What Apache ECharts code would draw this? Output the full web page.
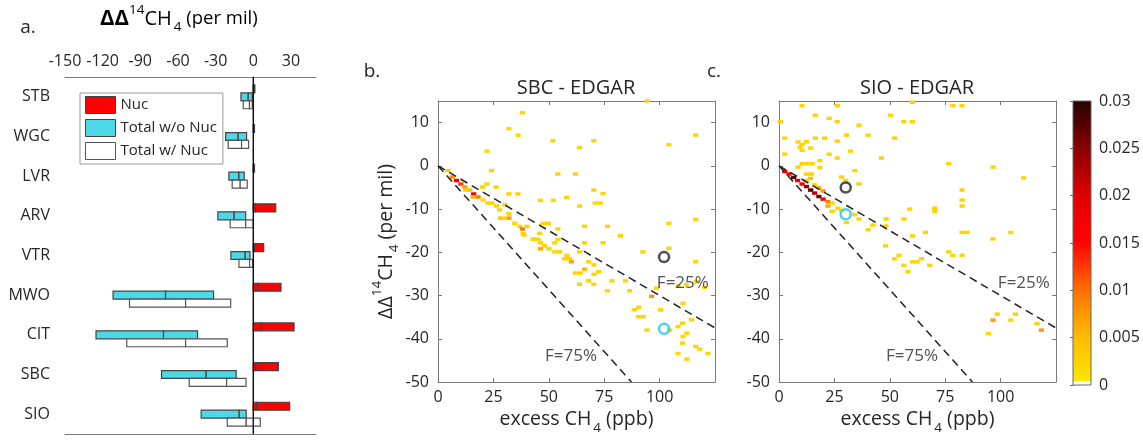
<!DOCTYPE html>
<html><head><meta charset="utf-8">
<script src="https://cdn.jsdelivr.net/npm/echarts@6/dist/echarts.min.js"></script>
<style>html,body{margin:0;padding:0;background:#fff}#c{width:1143px;height:444px}</style>
</head><body><div id="c"></div>
<script>
// ---------- Panel a data ----------
const SITES = ['STB','WGC','LVR','ARV','VTR','MWO','CIT','SBC','SIO'];
const A_TICKS = [-150,-120,-90,-60,-30,0,30];
// [low, mid, high] in per mil
const NUC    = [[0,0.4,1.3],[0,0.3,1],[0,0.3,1],[0,1.6,17.9],[0,1,8.3],[0,4,22.1],[0,6.4,32.5],[0,2.2,20],[0,2.7,29]];
const TOT_WO = [[-9.8,-4,-0.8],[-22,-12,-5.3],[-19.4,-11.4,-7.2],[-28.2,-15.2,-6],[-17.8,-6.4,-2.6],[-111.7,-69.9,-31.6],[-125.3,-71.5,-44.4],[-73.1,-37.5,-13.6],[-41.5,-11.2,-5.6]];
const TOT_W  = [[-8,-3,-0.8],[-20,-9.3,-3.7],[-16.8,-10.4,-4.8],[-18.4,-6,0],[-11.4,-2.9,-0.5],[-98.6,-53.9,-18],[-100.8,-53.9,-20.7],[-51,-21.2,-5.8],[-20.7,-5.6,5.6]];
const ZERO_LINE = [[0]];

// ---------- Panels b/c data: 2D histogram cells [excess CH4 center, ΔΔ14CH4 center, fraction] ----------
const BIN_DX = 2.35, BIN_DY = 0.8;
const SBC_CELLS = [
 [38.1,12.3,0.002],[32,8.6,0.002],[36.1,7.1,0.002],[22.1,3.4,0.002],[24.2,-1.1,0.002],[51.8,5.8,0.002],[63.8,4.2,0.002],[70.3,5.8,0.002],[104.2,4.9,0.002],[116.3,7.1,0.002],[94.5,15,0.002],
 [54.1,-1.9,0.002],[62.1,-1.9,0.002],
 [22.1,-4.2,0.002],[26.2,-4.9,0.002],[32,-6.5,0.002],[36.1,-6.5,0.002],[46.2,-8,0.002],[52,-8,0.002],[58.1,-7.3,0.002],[63.9,-9.3,0.002],[70.3,-5.6,0.002],[74.5,-6.4,0.002],[70.9,-8.6,0.002],[73.2,-8.6,0.002],
 [47.5,-13.3,0.002],[49.8,-13.3,0.002],[54.1,-14.6,0.002],[66.1,-14,0.002],[76.5,-14,0.002],[82.4,-16.1,0.002],[104.2,-13.3,0.002],[116.3,-12.4,0.002],
 [4.5,-1.1,0.003],[6.4,-2.6,0.008],[8.3,-3.4,0.016],[10.3,-4.2,0.012],[12.1,-4.9,0.007],[12.5,-5.6,0.002],[14.3,-5.6,0.004],[16.1,-6.5,0.015],[18.1,-7.2,0.009],[15.8,-7.2,0.005],[20.1,-4.9,0.002],[20.3,-7.9,0.002],[22.5,-8.6,0.002],[24.4,-8.6,0.002],[26.4,-9.3,0.002],[27.8,-10.2,0.002],[30.2,-9,0.002],[28.2,-12.1,0.004],[32,-11.1,0.002],[32,-12.1,0.007],[30,-12.1,0.002],[34.6,-13.3,0.002],[36.9,-14,0.002],[38.1,-14.6,0.009],[40.2,-14,0.002],[38.4,-15.7,0.002],[43.2,-16.9,0.002],[45.9,-15.6,0.002],
 [38.8,-16,0.002],[42.9,-17,0.002],[45.1,-17,0.002],[46.2,-17.8,0.002],[48.1,-18.5,0.002],[50.1,-19.2,0.002],[52.7,-19.9,0.002],[54.9,-19.9,0.002],[54.2,-17,0.002],[52.7,-17.8,0.002],[46.2,-19.2,0.006],[58.2,-20.7,0.002],[57.2,-21.5,0.002],[59.4,-21.5,0.002],[60.2,-22.2,0.006],[63.9,-19.9,0.002],[66.1,-17.8,0.002],[68,-22.2,0.002],[70.4,-22.9,0.002],[74.5,-17.8,0.002],[82.3,-16.2,0.002],[66.2,-23.9,0.005],[62,-24.8,0.002],[64.2,-24.8,0.002],[70.4,-25.1,0.002],[72.5,-24.5,0.002],[68,-26.6,0.002],[70.3,-27.4,0.002],[63.9,-27.4,0.002],[78.5,-26.6,0.002],[76.4,-28.9,0.002],[84.6,-26.6,0.002],[86.5,-28.9,0.002],[92.5,-19.9,0.002],[104.2,-19.1,0.002],[116.3,-22.2,0.002],[98.6,-28.3,0.002],[96.4,-30.2,0.007],[88.6,-33.3,0.002],[90.6,-32.7,0.002],[90.4,-34.9,0.002],[92.6,-34.9,0.002],[100.4,-33.3,0.002],[94.3,-38,0.002],[110.6,-31.8,0.002],[108.3,-37.2,0.002],[110.3,-36.4,0.002],[114.4,-35.6,0.002],[104.6,-38,0.002],[112.3,-38.7,0.002],[110.6,-39.5,0.002],[110.3,-41,0.002],[116.3,-41.8,0.002],[118.1,-42.4,0.002],[108.3,-43.4,0.002],[112.3,-44.7,0.002],[121.8,-43.4,0.002],[112,-27.5,0.002],[120.3,-28.1,0.002],[116.6,-26.8,0.002],[108.3,-27.8,0.002]
];
const SIO_CELLS = [
 [10.4,13.9,0.002],[26.3,13.9,0.002],[16.4,11.7,0.002],[22.6,11,0.002],[0.6,10.2,0.002],[26.3,10.2,0.002],[36.1,9.4,0.002],[30.4,7.1,0.002],[40.2,7.1,0.002],[2.6,6.4,0.002],[16.4,6.4,0.002],[20.6,6.4,0.002],[26.3,5.7,0.002],[8.6,5.5,0.002],[10.4,4.9,0.002],[9.5,4.3,0.002],[12.4,5.6,0.002],[10.4,3.6,0.002],[14.3,4.1,0.002],[32.2,3.4,0.002],[2.6,2.7,0.002],[22.6,2.7,0.002],[46.2,1.8,0.002],[18.4,1.2,0.002],[26.3,1.8,0.002],[10.4,0.5,0.002],[12.7,0.5,0.002],[14.9,0.5,0.002],[18.4,-0.4,0.002],[8.6,-0.3,0.002],[34.2,-1.1,0.002],[12.4,-1.9,0.002],[14.7,-1.9,0.002],[28.2,-2.6,0.002],[30.1,-3.4,0.002],[36.1,-4.2,0.002],
 [60.2,14.7,0.002],[50.3,11.7,0.002],[56.3,10.2,0.002],[60.2,10.2,0.002],[52.2,6.4,0.002],[78.5,13.9,0.002],[82.6,13.9,0.002],[76.6,0.5,0.002],[96.6,-0.3,0.002],[110.4,-2.8,0.002],
 [82.6,-5.6,0.002],[82.6,-7.9,0.002],[82.6,-9.3,0.002],[70.3,-9.8,0.002],[70.3,-10.5,0.002],[59,-10,0.002],[56.4,-12.3,0.002],[48.3,-12.3,0.002],[48.2,-13.9,0.002],[42.4,-13.7,0.002],[60.2,-16.2,0.002],[66.1,-15.4,0.002],[82.6,-15.4,0.002],[84.9,-15.4,0.002],[104.6,-15.4,0.002],[96.6,-16.9,0.002],[40.2,-14.8,0.002],[48.1,-18.5,0.002],[54.2,-20.7,0.002],[52.2,-21.5,0.002],[56.3,-23,0.002],[58.2,-24.5,0.002],[60.2,-22.2,0.002],[62.3,-22.2,0.002],[64.3,-21.5,0.002],[68,-23,0.002],[76.6,-19.9,0.002],[78.5,-20.7,0.002],[82.6,-20.7,0.002],
 [2.6,-1.3,0.015],[4.5,-1.9,0.016],[6.6,-2.7,0.027],[8.4,-3.4,0.018],[10.4,-4.2,0.017],[12.4,-4.8,0.024],[14.3,-5.6,0.028],[16.1,-6.3,0.022],[18,-7.1,0.026],[19.9,-7.7,0.016],[22.1,-8.3,0.009],[19.9,-5.8,0.007],[18,-5.1,0.006],[14.2,-2.9,0.004],[12.4,-3.4,0.002],[16.1,-4.4,0.002],[22.1,-9.3,0.006],[24,-8.6,0.002],[26.6,-9.8,0.002],[28.2,-10.3,0.002],[34.2,-11.3,0.002],[36.1,-12.3,0.002],[30.4,-13.1,0.002],[24,-10.5,0.002],
 [94.5,-38.8,0.002],[96.6,-35.7,0.007],[98.5,-34.3,0.002],[104.6,-35.7,0.002],[106.7,-34.3,0.002],[116.4,-36.5,0.002],[118.4,-38,0.007]
];
const F25_LINE = [[0,0],[125,-37.5]];
const F75_LINE = [[0,0],[87.3,-50]];
const F_LABELS = [[110.5,-27.1],[60,-44]];
const F_TEXT = ['F=25%','F=75%'];
const SBC_OBS_BLACK = [[102,-21.1]];
const SBC_OBS_CYAN  = [[102,-37.7]];
const SIO_OBS_BLACK = [[30.1,-5.0]];
const SIO_OBS_CYAN  = [[30.1,-11.2]];
const CB_RANGE = [[0,0.03]];
const CB_WHITE_TOP = 0.0004;
const CMAP = ['#FFE600','#FFD000','#FFB800','#FF9400','#FF6A00','#FF3400','#FF0000','#F40000','#DC0000','#B40000','#880000','#560000','#280000'];

// ---------- styles ----------
const FONT = 'Open Sans';
const TXT = '#262626';
const AX = '#7a7a7a';
const CYAN = '#4DD8E6';

const chart = echarts.init(document.getElementById('c'), null, {renderer:'canvas'});

function rangeItem(offsetFrac, fill, stroke) {
  return function (params, api) {
    const lo = api.value(0), mid = api.value(1), hi = api.value(2), cat = api.value(3);
    const band = api.size([0, 1])[1];
    const yc = api.coord([0, cat])[1] + offsetFrac * band;
    const h = 0.2 * band;
    const p0 = api.coord([lo, cat])[0], p1 = api.coord([mid, cat])[0], p2 = api.coord([hi, cat])[0];
    const st = {fill: fill, stroke: stroke, lineWidth: 1.2};
    return {type:'group', children:[
      {type:'rect', shape:{x:p0, y:yc-h/2, width:p1-p0, height:h}, style:st},
      {type:'rect', shape:{x:p1, y:yc-h/2, width:p2-p1, height:h}, style:st}
    ]};
  };
}
function zeroLineItem(params, api) {
  const cs = params.coordSys;
  const x = api.coord([api.value(0), 0])[0];
  return {type:'line', shape:{x1:x, y1:cs.y, x2:x, y2:cs.y+cs.height}, style:{stroke:'#000', lineWidth:1.3}};
}
function cellItem(params, api) {
  const x = api.value(0), y = api.value(1);
  const a = api.coord([x - BIN_DX/2, y + BIN_DY/2]);
  const b = api.coord([x + BIN_DX/2, y - BIN_DY/2]);
  return {type:'rect', shape:{x:a[0], y:a[1], width:b[0]-a[0], height:b[1]-a[1]}, style:{fill: api.visual('color')}};
}
function colorbarItem(params, api) {
  const lo = api.value(0), hi = api.value(1);
  const w0 = api.coord([0, lo]), w1 = api.coord([1, CB_WHITE_TOP]);
  const g1 = api.coord([1, hi]);
  const stops = CMAP.map((c,i)=>({offset: i/(CMAP.length-1), color: c}));
  return {type:'group', children:[
    {type:'rect', shape:{x:w0[0], y:w1[1], width:g1[0]-w0[0], height:w0[1]-w1[1]}, style:{fill:'#ffffff'}},
    {type:'rect', shape:{x:w0[0], y:g1[1], width:g1[0]-w0[0], height:w1[1]-g1[1]},
      style:{fill:{type:'linear', x:0, y:1, x2:0, y2:0, colorStops:stops}}},
    {type:'rect', shape:{x:w0[0], y:g1[1], width:g1[0]-w0[0], height:w0[1]-g1[1]}, style:{fill:'none', stroke:'#666', lineWidth:1}}
  ]};
}

const tickStyle = {inside:true, length:4, lineStyle:{color:AX}};
const lblStyle = {fontFamily:FONT, fontSize:16, color:TXT};
const sub = {fontSize:13.5, fontFamily:FONT, color:TXT, verticalAlign:'bottom', lineHeight:31, padding:[0,0,0,2]};
const sup = {fontSize:13.5, fontFamily:FONT, color:TXT, verticalAlign:'top', lineHeight:31};
const nrm = {fontSize:19.5, fontFamily:FONT, color:TXT, lineHeight:31};

function valAxis(grid, pos, min, max, interval, showLabel, extra) {
  return Object.assign({
    type:'value', gridIndex:grid, position:pos, min:min, max:max, interval:interval,
    axisLine:{show:true, onZero:false, lineStyle:{color:AX, width:1}},
    axisTick:tickStyle, splitLine:{show:false},
    axisLabel:Object.assign({show:showLabel, showMaxLabel:false, margin:7}, lblStyle)
  }, extra || {});
}
const dash = {color:'#222', width:1.5, type:[8,5]};
const ring = (c) => ({color:'rgba(255,255,255,0)', borderColor:c, borderWidth:2.5});
const fLabel = {show:true, position:'inside', fontFamily:FONT, fontSize:17, color:TXT, formatter:p=>F_TEXT[p.dataIndex]};
const xName = '{n|excess CH}{s|4}{n| (ppb)}';

const option = {
  animation:false,
  backgroundColor:'#fff',
  grid:[
    {left:65, top:77, width:251, height:357},
    {left:438, top:101, width:277, height:281},
    {left:779, top:101, width:277, height:281},
    {left:1073, top:101, width:18, height:284}
  ],
  xAxis:[
    valAxis(0,'top',-150,50,30,true,{axisLabel:Object.assign({show:true, margin:8, customValues:A_TICKS}, lblStyle), axisTick:Object.assign({customValues:A_TICKS}, tickStyle)}),
    valAxis(0,'bottom',-150,50,30,false,{axisTick:Object.assign({customValues:A_TICKS}, tickStyle)}),
    valAxis(1,'bottom',0,125,25,true,{name:xName, nameLocation:'middle', nameGap:17, nameTextStyle:{rich:{n:nrm, s:sub}}}),
    valAxis(1,'top',0,125,25,false),
    valAxis(2,'bottom',0,125,25,true,{name:xName, nameLocation:'middle', nameGap:17, nameTextStyle:{rich:{n:nrm, s:sub}}}),
    valAxis(2,'top',0,125,25,false),
    {type:'value', gridIndex:3, min:0, max:1, show:false}
  ],
  yAxis:[
    {type:'category', gridIndex:0, data:SITES, inverse:true,
      axisLine:{show:true, lineStyle:{color:AX}}, axisTick:Object.assign({alignWithLabel:true}, tickStyle),
      axisLabel:Object.assign({margin:15}, lblStyle)},
    valAxis(1,'left',-50,15,10,true,{axisLabel:Object.assign({show:true, showMaxLabel:false, margin:9}, lblStyle),
      name:'{n|ΔΔ}{p|14}{n|CH}{s|4}{n| (per mil)}', nameLocation:'middle', nameGap:36, nameRotate:90,
      nameTextStyle:{rich:{n:nrm, s:sub, p:sup}}}),
    valAxis(1,'right',-50,15,10,false),
    valAxis(2,'left',-50,15,10,true,{axisLabel:Object.assign({show:true, showMaxLabel:false, margin:9}, lblStyle)}),
    valAxis(2,'right',-50,15,10,false),
    {type:'value', gridIndex:3, position:'right', min:0, max:0.03, interval:0.005,
      axisLine:{show:true, lineStyle:{color:'#666'}}, axisTick:{inside:true, length:3, lineStyle:{color:'#666'}}, splitLine:{show:false},
      axisLabel:Object.assign({margin:8}, lblStyle)}
  ],
  visualMap:[{type:'continuous', show:false, min:0, max:0.03, dimension:2, seriesIndex:[4,5], inRange:{color:CMAP}}],
  legend:{
    orient:'vertical', left:80, top:93, padding:[3,6,4,5], itemGap:5, itemWidth:30, itemHeight:17,
    borderColor:'#999', borderWidth:1, backgroundColor:'#fff',
    textStyle:{fontFamily:FONT, fontSize:15, color:TXT},
    data:[
      {name:'Nuc', icon:'rect', itemStyle:{color:'#FF0000', borderColor:'#444', borderWidth:1}},
      {name:'Total w/o Nuc', icon:'rect', itemStyle:{color:CYAN, borderColor:'#444', borderWidth:1}},
      {name:'Total w/ Nuc', icon:'rect', itemStyle:{color:'#fff', borderColor:'#555', borderWidth:1}}
    ]
  },
  series:[
    {name:'Nuc', type:'custom', xAxisIndex:0, yAxisIndex:0, renderItem:rangeItem(-0.2,'#FF0000','#444'),
      itemStyle:{color:'#FF0000'}, encode:{x:[0,1,2], y:3}, z:3, data:NUC.map((r,i)=>[r[0],r[1],r[2],i])},
    {name:'Total w/o Nuc', type:'custom', xAxisIndex:0, yAxisIndex:0, renderItem:rangeItem(0,CYAN,'#444'),
      itemStyle:{color:CYAN}, encode:{x:[0,1,2], y:3}, z:3, data:TOT_WO.map((r,i)=>[r[0],r[1],r[2],i])},
    {name:'Total w/ Nuc', type:'custom', xAxisIndex:0, yAxisIndex:0, renderItem:rangeItem(0.2,'#fff','#555'),
      itemStyle:{color:'#fff'}, encode:{x:[0,1,2], y:3}, z:3, data:TOT_W.map((r,i)=>[r[0],r[1],r[2],i])},
    {type:'custom', xAxisIndex:0, yAxisIndex:0, renderItem:zeroLineItem, encode:{x:0}, z:4, data:ZERO_LINE},
    {type:'custom', xAxisIndex:2, yAxisIndex:1, renderItem:cellItem, encode:{x:0, y:1}, data:SBC_CELLS, z:2},
    {type:'custom', xAxisIndex:4, yAxisIndex:3, renderItem:cellItem, encode:{x:0, y:1}, data:SIO_CELLS, z:2},
    {type:'line', xAxisIndex:2, yAxisIndex:1, data:F25_LINE, symbol:'none', z:4, lineStyle:dash},
    {type:'line', xAxisIndex:2, yAxisIndex:1, data:F75_LINE, symbol:'none', z:4, lineStyle:dash},
    {type:'line', xAxisIndex:4, yAxisIndex:3, data:F25_LINE, symbol:'none', z:4, lineStyle:dash},
    {type:'line', xAxisIndex:4, yAxisIndex:3, data:F75_LINE, symbol:'none', z:4, lineStyle:dash},
    {type:'scatter', xAxisIndex:2, yAxisIndex:1, data:SBC_OBS_BLACK, symbolSize:10, z:5, itemStyle:ring('#222')},
    {type:'scatter', xAxisIndex:2, yAxisIndex:1, data:SBC_OBS_CYAN, symbolSize:10, z:5, itemStyle:ring('#1EC8E8')},
    {type:'scatter', xAxisIndex:4, yAxisIndex:3, data:SIO_OBS_BLACK, symbolSize:10, z:5, itemStyle:ring('#222')},
    {type:'scatter', xAxisIndex:4, yAxisIndex:3, data:SIO_OBS_CYAN, symbolSize:10, z:5, itemStyle:ring('#1EC8E8')},
    {type:'scatter', xAxisIndex:2, yAxisIndex:1, symbolSize:1, z:6, itemStyle:{color:'rgba(255,255,255,0)'}, label:fLabel, data:F_LABELS},
    {type:'scatter', xAxisIndex:4, yAxisIndex:3, symbolSize:1, z:6, itemStyle:{color:'rgba(255,255,255,0)'}, label:fLabel, data:F_LABELS},
    {type:'custom', xAxisIndex:6, yAxisIndex:5, renderItem:colorbarItem, encode:{x:0, y:1}, data:CB_RANGE, z:2}
  ],
  graphic:[
    {type:'text', x:28, y:28, style:{text:'a.', font:'19px "Open Sans"', fill:TXT, align:'center', verticalAlign:'middle'}},
    {type:'text', x:372, y:72, style:{text:'b.', font:'19px "Open Sans"', fill:TXT, align:'center', verticalAlign:'middle'}},
    {type:'text', x:714, y:72, style:{text:'c.', font:'19px "Open Sans"', fill:TXT, align:'center', verticalAlign:'middle'}},
    {type:'text', x:100, y:19, style:{text:'{b|ΔΔ}{p|14}{c|CH}{s|4}{n| (per mil)}',
      rich:{b:Object.assign({}, nrm, {fontWeight:'bold', fontSize:22}), c:Object.assign({}, nrm, {fontSize:20}), n:Object.assign({}, nrm, {fontSize:18.5}), s:sub, p:sup}, verticalAlign:'middle'}},
    {type:'text', x:576, y:88, style:{text:'SBC - EDGAR', font:'20px "Open Sans"', fill:TXT, align:'center', verticalAlign:'middle'}},
    {type:'text', x:917, y:88, style:{text:'SIO - EDGAR', font:'20px "Open Sans"', fill:TXT, align:'center', verticalAlign:'middle'}}
  ]
};
chart.setOption(option);
</script></body></html>
